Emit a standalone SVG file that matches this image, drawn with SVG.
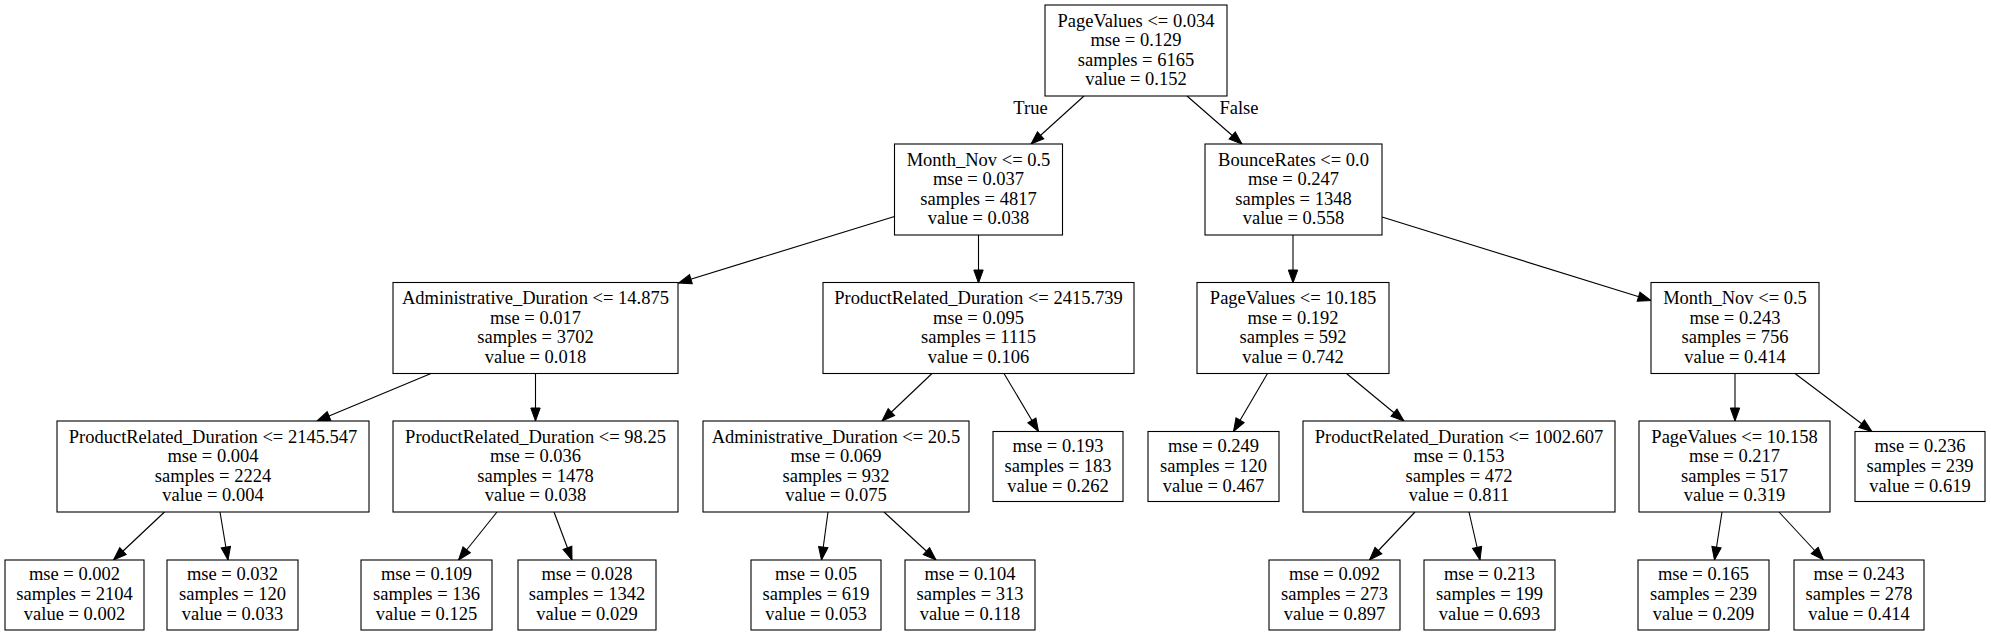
<svg xmlns="http://www.w3.org/2000/svg" width="1991" height="636" viewBox="0 0 1991 636">
<style>
  .box { fill: #ffffff; stroke: #000000; stroke-width: 1.1; }
  .t { font-family: "Liberation Serif", "Times New Roman", serif; font-size: 18.5px; fill: #000000; text-anchor: middle; }
  .edge { stroke: #000000; stroke-width: 1.1; fill: none; marker-end: url(#arrow); }
</style>
<defs>
  <marker id="arrow" markerUnits="userSpaceOnUse" viewBox="0 0 13 10" markerWidth="13" markerHeight="10" refX="13" refY="5" orient="auto" overflow="visible">
    <path d="M0,0.3 L13,5 L0,9.7 z" fill="#000000" stroke="#000000" stroke-width="1"/>
  </marker>
</defs>
<rect x="0" y="0" width="1991" height="636" fill="#ffffff"/>

<g id="connectors">
  <line class="edge" x1="1084" y1="96" x2="1031" y2="144"/>
  <line class="edge" x1="1187" y1="96" x2="1242" y2="144"/>
  <line class="edge" x1="894.5" y1="216.5" x2="678.5" y2="283"/>
  <line class="edge" x1="978.5" y1="235" x2="978.5" y2="283"/>
  <line class="edge" x1="1293" y1="235" x2="1293" y2="283"/>
  <line class="edge" x1="1382" y1="217" x2="1651" y2="300.5"/>
  <line class="edge" x1="431" y1="373.5" x2="317" y2="421"/>
  <line class="edge" x1="535.5" y1="373.5" x2="535.5" y2="421"/>
  <line class="edge" x1="932" y1="373.5" x2="882" y2="421"/>
  <line class="edge" x1="1004" y1="373.5" x2="1038.5" y2="431.5"/>
  <line class="edge" x1="1267.5" y1="373.5" x2="1233.5" y2="431.5"/>
  <line class="edge" x1="1346.5" y1="373.5" x2="1404" y2="421"/>
  <line class="edge" x1="1735" y1="373.5" x2="1735" y2="421"/>
  <line class="edge" x1="1795" y1="373.5" x2="1872" y2="431.5"/>
  <line class="edge" x1="164.5" y1="512" x2="113.5" y2="560"/>
  <line class="edge" x1="220" y1="512" x2="228" y2="560"/>
  <line class="edge" x1="497" y1="512" x2="458.5" y2="560"/>
  <line class="edge" x1="554" y1="512" x2="572" y2="560"/>
  <line class="edge" x1="828" y1="512" x2="821.5" y2="560"/>
  <line class="edge" x1="884" y1="512" x2="936" y2="560"/>
  <line class="edge" x1="1415" y1="512" x2="1369.5" y2="560"/>
  <line class="edge" x1="1469" y1="512" x2="1480" y2="560"/>
  <line class="edge" x1="1722" y1="512" x2="1714.5" y2="560"/>
  <line class="edge" x1="1779" y1="512" x2="1823.5" y2="560"/>
  <text class="t" x="1030.5" y="114">True</text>
  <text class="t" x="1239" y="114">False</text>
</g>

<g id="n0">
  <rect class="box" x="1045" y="5" width="182" height="91"/>
  <text class="t" x="1136" y="26.6">PageValues &lt;= 0.034</text>
  <text class="t" x="1136" y="46.2">mse = 0.129</text>
  <text class="t" x="1136" y="65.8">samples = 6165</text>
  <text class="t" x="1136" y="85.4">value = 0.152</text>
</g>

<g id="n1">
  <rect class="box" x="894.5" y="144" width="168" height="91"/>
  <text class="t" x="978.5" y="165.6">Month_Nov &lt;= 0.5</text>
  <text class="t" x="978.5" y="185.2">mse = 0.037</text>
  <text class="t" x="978.5" y="204.8">samples = 4817</text>
  <text class="t" x="978.5" y="224.4">value = 0.038</text>
</g>

<g id="n2">
  <rect class="box" x="1205" y="144" width="177" height="91"/>
  <text class="t" x="1293.5" y="165.6">BounceRates &lt;= 0.0</text>
  <text class="t" x="1293.5" y="185.2">mse = 0.247</text>
  <text class="t" x="1293.5" y="204.8">samples = 1348</text>
  <text class="t" x="1293.5" y="224.4">value = 0.558</text>
</g>

<g id="n3">
  <rect class="box" x="393" y="282.5" width="285" height="91"/>
  <text class="t" x="535.5" y="304.1">Administrative_Duration &lt;= 14.875</text>
  <text class="t" x="535.5" y="323.7">mse = 0.017</text>
  <text class="t" x="535.5" y="343.3">samples = 3702</text>
  <text class="t" x="535.5" y="362.9">value = 0.018</text>
</g>

<g id="n4">
  <rect class="box" x="823" y="282.5" width="311" height="91"/>
  <text class="t" x="978.5" y="304.1">ProductRelated_Duration &lt;= 2415.739</text>
  <text class="t" x="978.5" y="323.7">mse = 0.095</text>
  <text class="t" x="978.5" y="343.3">samples = 1115</text>
  <text class="t" x="978.5" y="362.9">value = 0.106</text>
</g>

<g id="n5">
  <rect class="box" x="1197" y="282.5" width="192" height="91"/>
  <text class="t" x="1293" y="304.1">PageValues &lt;= 10.185</text>
  <text class="t" x="1293" y="323.7">mse = 0.192</text>
  <text class="t" x="1293" y="343.3">samples = 592</text>
  <text class="t" x="1293" y="362.9">value = 0.742</text>
</g>

<g id="n6">
  <rect class="box" x="1651" y="282.5" width="168" height="91"/>
  <text class="t" x="1735" y="304.1">Month_Nov &lt;= 0.5</text>
  <text class="t" x="1735" y="323.7">mse = 0.243</text>
  <text class="t" x="1735" y="343.3">samples = 756</text>
  <text class="t" x="1735" y="362.9">value = 0.414</text>
</g>

<g id="n7">
  <rect class="box" x="57" y="421" width="312" height="91"/>
  <text class="t" x="213" y="442.6">ProductRelated_Duration &lt;= 2145.547</text>
  <text class="t" x="213" y="462.2">mse = 0.004</text>
  <text class="t" x="213" y="481.8">samples = 2224</text>
  <text class="t" x="213" y="501.4">value = 0.004</text>
</g>

<g id="n8">
  <rect class="box" x="393" y="421" width="285" height="91"/>
  <text class="t" x="535.5" y="442.6">ProductRelated_Duration &lt;= 98.25</text>
  <text class="t" x="535.5" y="462.2">mse = 0.036</text>
  <text class="t" x="535.5" y="481.8">samples = 1478</text>
  <text class="t" x="535.5" y="501.4">value = 0.038</text>
</g>

<g id="n9">
  <rect class="box" x="703" y="421" width="266" height="91"/>
  <text class="t" x="836" y="442.6">Administrative_Duration &lt;= 20.5</text>
  <text class="t" x="836" y="462.2">mse = 0.069</text>
  <text class="t" x="836" y="481.8">samples = 932</text>
  <text class="t" x="836" y="501.4">value = 0.075</text>
</g>

<g id="n10">
  <rect class="box" x="993" y="431.5" width="130" height="70"/>
  <text class="t" x="1058" y="452.4">mse = 0.193</text>
  <text class="t" x="1058" y="472">samples = 183</text>
  <text class="t" x="1058" y="491.6">value = 0.262</text>
</g>

<g id="n11">
  <rect class="box" x="1148" y="431.5" width="131" height="70"/>
  <text class="t" x="1213.5" y="452.4">mse = 0.249</text>
  <text class="t" x="1213.5" y="472">samples = 120</text>
  <text class="t" x="1213.5" y="491.6">value = 0.467</text>
</g>

<g id="n12">
  <rect class="box" x="1303" y="421" width="312" height="91"/>
  <text class="t" x="1459" y="442.6">ProductRelated_Duration &lt;= 1002.607</text>
  <text class="t" x="1459" y="462.2">mse = 0.153</text>
  <text class="t" x="1459" y="481.8">samples = 472</text>
  <text class="t" x="1459" y="501.4">value = 0.811</text>
</g>

<g id="n13">
  <rect class="box" x="1639" y="421" width="191" height="91"/>
  <text class="t" x="1734.5" y="442.6">PageValues &lt;= 10.158</text>
  <text class="t" x="1734.5" y="462.2">mse = 0.217</text>
  <text class="t" x="1734.5" y="481.8">samples = 517</text>
  <text class="t" x="1734.5" y="501.4">value = 0.319</text>
</g>

<g id="n14">
  <rect class="box" x="1855" y="431.5" width="130" height="70"/>
  <text class="t" x="1920" y="452.4">mse = 0.236</text>
  <text class="t" x="1920" y="472">samples = 239</text>
  <text class="t" x="1920" y="491.6">value = 0.619</text>
</g>

<g id="n15">
  <rect class="box" x="5" y="560" width="139" height="70"/>
  <text class="t" x="74.5" y="580.4">mse = 0.002</text>
  <text class="t" x="74.5" y="600">samples = 2104</text>
  <text class="t" x="74.5" y="619.6">value = 0.002</text>
</g>

<g id="n16">
  <rect class="box" x="167" y="560" width="131" height="70"/>
  <text class="t" x="232.5" y="580.4">mse = 0.032</text>
  <text class="t" x="232.5" y="600">samples = 120</text>
  <text class="t" x="232.5" y="619.6">value = 0.033</text>
</g>

<g id="n17">
  <rect class="box" x="361" y="560" width="131" height="70"/>
  <text class="t" x="426.5" y="580.4">mse = 0.109</text>
  <text class="t" x="426.5" y="600">samples = 136</text>
  <text class="t" x="426.5" y="619.6">value = 0.125</text>
</g>

<g id="n18">
  <rect class="box" x="518" y="560" width="138" height="70"/>
  <text class="t" x="587" y="580.4">mse = 0.028</text>
  <text class="t" x="587" y="600">samples = 1342</text>
  <text class="t" x="587" y="619.6">value = 0.029</text>
</g>

<g id="n19">
  <rect class="box" x="751" y="560" width="130" height="70"/>
  <text class="t" x="816" y="580.4">mse = 0.05</text>
  <text class="t" x="816" y="600">samples = 619</text>
  <text class="t" x="816" y="619.6">value = 0.053</text>
</g>

<g id="n20">
  <rect class="box" x="905" y="560" width="130" height="70"/>
  <text class="t" x="970" y="580.4">mse = 0.104</text>
  <text class="t" x="970" y="600">samples = 313</text>
  <text class="t" x="970" y="619.6">value = 0.118</text>
</g>

<g id="n21">
  <rect class="box" x="1269" y="560" width="131" height="70"/>
  <text class="t" x="1334.5" y="580.4">mse = 0.092</text>
  <text class="t" x="1334.5" y="600">samples = 273</text>
  <text class="t" x="1334.5" y="619.6">value = 0.897</text>
</g>

<g id="n22">
  <rect class="box" x="1424" y="560" width="131" height="70"/>
  <text class="t" x="1489.5" y="580.4">mse = 0.213</text>
  <text class="t" x="1489.5" y="600">samples = 199</text>
  <text class="t" x="1489.5" y="619.6">value = 0.693</text>
</g>

<g id="n23">
  <rect class="box" x="1638" y="560" width="131" height="70"/>
  <text class="t" x="1703.5" y="580.4">mse = 0.165</text>
  <text class="t" x="1703.5" y="600">samples = 239</text>
  <text class="t" x="1703.5" y="619.6">value = 0.209</text>
</g>

<g id="n24">
  <rect class="box" x="1794" y="560" width="130" height="70"/>
  <text class="t" x="1859" y="580.4">mse = 0.243</text>
  <text class="t" x="1859" y="600">samples = 278</text>
  <text class="t" x="1859" y="619.6">value = 0.414</text>
</g>
</svg>
